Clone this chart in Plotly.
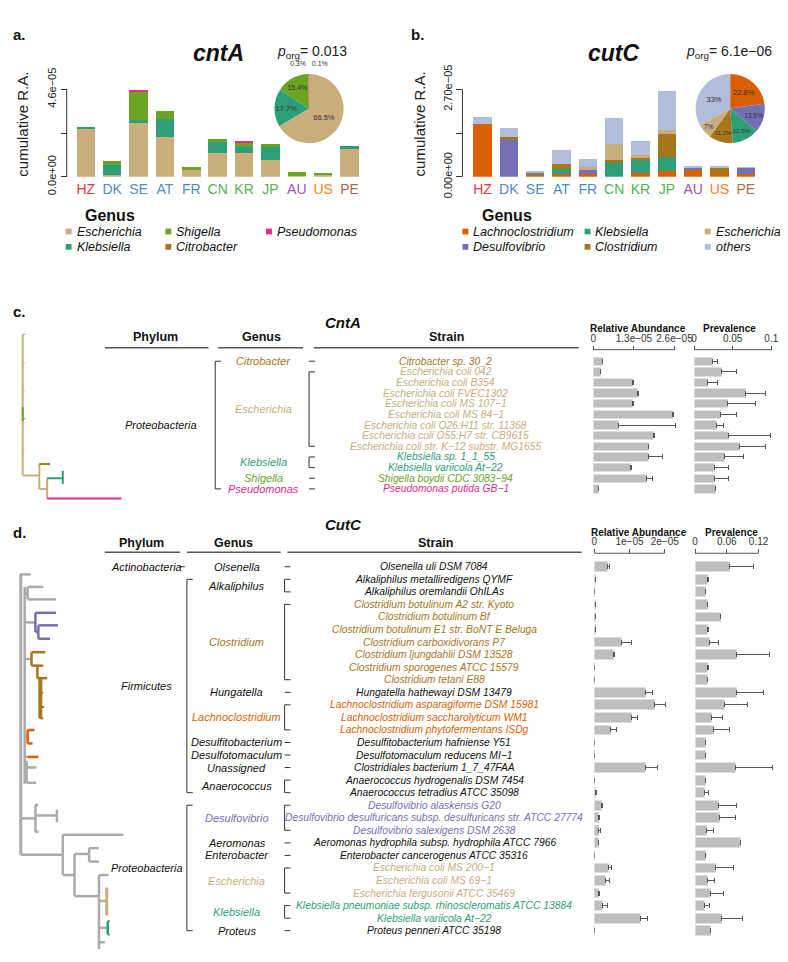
import plotly.graph_objects as go

W, H = 788, 962
def X(px): return px / W
def Y(py): return 1 - py / H

FONT = "Liberation Sans, Arial, Helvetica, sans-serif"

# ---------------- data: panels a / b ----------------
countries = ["HZ", "DK", "SE", "AT", "FR", "CN", "KR", "JP", "AU", "US", "PE"]
country_colors = ["#E3393C", "#4F8BC9", "#4F8BC9", "#4F8BC9", "#4F8BC9", "#55B255",
                  "#55B255", "#55B255", "#A34FC1", "#FF7F1E", "#B06A4B"]

cnta_genera = ["Escherichia", "Klebsiella", "Shigella", "Citrobacter", "Pseudomonas"]
cnta_escherichia = [2.56e-5, 0.08e-5, 2.85e-5, 2.11e-5, 0.40e-5, 1.26e-5, 1.23e-5, 0.86e-5, 0.02e-5, 0.12e-5, 1.50e-5]
cnta_klebsiella  = [0.08e-5, 0.54e-5, 0.13e-5, 0.91e-5, 0.00e-5, 0.61e-5, 0.32e-5, 0.72e-5, 0.00e-5, 0.02e-5, 0.10e-5]
cnta_shigella    = [0.00e-5, 0.20e-5, 1.54e-5, 0.42e-5, 0.09e-5, 0.10e-5, 0.24e-5, 0.15e-5, 0.25e-5, 0.08e-5, 0.00e-5]
cnta_citrobacter = [0, 0, 0, 0, 0, 0, 0.05e-5, 0, 0, 0, 0]
cnta_pseudomonas = [0, 0, 0.05e-5, 0, 0, 0, 0.03e-5, 0, 0, 0, 0]
cnta_pie = [66.5, 17.7, 15.4, 0.3, 0.1]
cnta_porg = "0.013"

cutc_genera = ["Lachnoclostridium", "Desulfovibrio", "Klebsiella", "Clostridium", "Escherichia", "others"]
cutc_lachno   = [1.63e-5, 0, 0.02e-5, 0.10e-5, 0.10e-5, 0, 0.13e-5, 0.17e-5, 0.23e-5, 0.09e-5, 0.10e-5]
cutc_desulfo  = [0, 1.14e-5, 0.07e-5, 0, 0.12e-5, 0, 0, 0, 0.05e-5, 0, 0.18e-5]
cutc_klebs    = [0, 0, 0, 0.15e-5, 0, 0.45e-5, 0.42e-5, 0.45e-5, 0, 0, 0]
cutc_clostr   = [0, 0.08e-5, 0.06e-5, 0.13e-5, 0, 0.06e-5, 0.03e-5, 0.69e-5, 0, 0.20e-5, 0]
cutc_escher   = [0, 0, 0, 0, 0.08e-5, 0.50e-5, 0.10e-5, 0.14e-5, 0, 0, 0]
cutc_others   = [0.23e-5, 0.30e-5, 0.04e-5, 0.44e-5, 0.26e-5, 0.82e-5, 0.42e-5, 1.21e-5, 0.03e-5, 0.05e-5, 0.02e-5]
cutc_pie = [22.8, 13.5, 12.5, 11.2, 7, 33]
cutc_porg = "6.1e\u221206"

genus_colors = {
    "Escherichia": "#C9AD7B", "Klebsiella": "#2E9E78", "Shigella": "#69A523",
    "Citrobacter": "#A6761D", "Pseudomonas": "#E7298A", "Lachnoclostridium": "#D95F02",
    "Desulfovibrio": "#7570B3", "Clostridium": "#A6761D", "others": "#B0BDDB",
}

# ---------------- data: panel c (CntA) ----------------
c_strains = ["Citrobacter sp. 30_2", "Escherichia coli 042", "Escherichia coli B354",
             "Escherichia coli FVEC1302", "Escherichia coli MS 107\u22121", "Escherichia coli MS 84\u22121",
             "Escherichia coli O26:H11 str. 11368", "Escherichia coli O55:H7 str. CB9615",
             "Escherichia coli str. K\u221212 substr. MG1655", "Klebsiella sp. 1_1_55",
             "Klebsiella variicola At\u221222", "Shigella boydii CDC 3083\u221294", "Pseudomonas putida GB\u22121"]
c_genus = ["Citrobacter"] + ["Escherichia"] * 8 + ["Klebsiella"] * 2 + ["Shigella", "Pseudomonas"]
c_phylum = ["Proteobacteria"] * 13
c_ra    = [0.28e-5, 0.22e-5, 1.26e-5, 1.40e-5, 1.26e-5, 2.54e-5, 0.80e-5, 1.94e-5, 1.76e-5, 1.76e-5, 1.20e-5, 1.70e-5, 0.16e-5]
c_ra_hi = [0.29e-5, 0.23e-5, 1.27e-5, 1.46e-5, 1.27e-5, 2.56e-5, 2.62e-5, 1.95e-5, 1.77e-5, 2.20e-5, 1.21e-5, 1.90e-5, 0.17e-5]
c_prev    = [0.024, 0.035, 0.018, 0.067, 0.043, 0.034, 0.029, 0.045, 0.059, 0.040, 0.026, 0.026, 0.028]
c_prev_hi = [0.031, 0.055, 0.030, 0.093, 0.080, 0.055, 0.038, 0.099, 0.093, 0.064, 0.044, 0.044, 0.028]
c_ra_ticks = [0, 1.3e-5, 2.6e-5]
c_ra_ticktext = ["0", "1.3e\u221205", "2.6e\u221205"]
c_prev_ticks = [0, 0.05, 0.1]
c_prev_ticktext = ["0", "0.05", "0.1"]

# ---------------- data: panel d (CutC) ----------------
d_strains = ["Olsenella uli DSM 7084", "Alkaliphilus metalliredigens QYMF", "Alkaliphilus oremlandii OhILAs",
             "Clostridium botulinum A2 str. Kyoto", "Clostridium botulinum Bf",
             "Clostridium botulinum E1 str. BoNT E Beluga", "Clostridium carboxidivorans P7",
             "Clostridium ljungdahlii DSM 13528", "Clostridium sporogenes ATCC 15579", "Clostridium tetani E88",
             "Hungatella hathewayi DSM 13479", "Lachnoclostridium asparagiforme DSM 15981",
             "Lachnoclostridium saccharolyticum WM1", "Lachnoclostridium phytofermentans ISDg",
             "Desulfitobacterium hafniense Y51", "Desulfotomaculum reducens MI\u22121",
             "Clostridiales bacterium 1_7_47FAA", "Anaerococcus hydrogenalis DSM 7454",
             "Anaerococcus tetradius ATCC 35098", "Desulfovibrio alaskensis G20",
             "Desulfovibrio desulfuricans subsp. desulfuricans str. ATCC 27774",
             "Desulfovibrio salexigens DSM 2638", "Aeromonas hydrophila subsp. hydrophila ATCC 7966",
             "Enterobacter cancerogenus ATCC 35316", "Escherichia coli MS 200\u22121", "Escherichia coli MS 69\u22121",
             "Escherichia fergusonii ATCC 35469", "Klebsiella pneumoniae subsp. rhinoscleromatis ATCC 13884",
             "Klebsiella variicola At\u221222", "Proteus penneri ATCC 35198"]
d_genus = (["Olsenella"] + ["Alkaliphilus"] * 2 + ["Clostridium"] * 7 + ["Hungatella"] +
           ["Lachnoclostridium"] * 3 + ["Desulfitobacterium", "Desulfotomaculum", "Unassigned"] +
           ["Anaerococcus"] * 2 + ["Desulfovibrio"] * 3 + ["Aeromonas", "Enterobacter"] +
           ["Escherichia"] * 3 + ["Klebsiella"] * 2 + ["Proteus"])
d_phylum = ["Actinobacteria"] + ["Firmicutes"] * 18 + ["Proteobacteria"] * 11
d_ra    = [0.37e-5, 0.02e-5, 0.01e-5, 0.02e-5, 0.02e-5, 0.03e-5, 0.76e-5, 0.54e-5, 0.01e-5, 0.01e-5,
           1.45e-5, 1.72e-5, 1.06e-5, 0.45e-5, 0.01e-5, 0.005e-5, 1.45e-5, 0.01e-5, 0.04e-5, 0.19e-5,
           0.12e-5, 0.12e-5, 0.11e-5, 0.01e-5, 0.40e-5, 0.31e-5, 0.12e-5, 0.23e-5, 1.30e-5, 0.01e-5]
d_ra_hi = [0.42e-5, 0.02e-5, 0.01e-5, 0.02e-5, 0.02e-5, 0.03e-5, 1.05e-5, 0.58e-5, 0.01e-5, 0.01e-5,
           1.65e-5, 2.03e-5, 1.22e-5, 0.63e-5, 0.01e-5, 0.005e-5, 1.80e-5, 0.01e-5, 0.06e-5, 0.24e-5,
           0.15e-5, 0.17e-5, 0.11e-5, 0.01e-5, 0.49e-5, 0.42e-5, 0.15e-5, 0.37e-5, 1.52e-5, 0.01e-5]
d_prev    = [0.0655, 0.023, 0.020, 0.0245, 0.049, 0.023, 0.028, 0.079, 0.023, 0.0245,
             0.078, 0.056, 0.032, 0.0355, 0.020, 0.020, 0.076, 0.020, 0.018, 0.0447,
             0.047, 0.022, 0.086, 0.020, 0.0386, 0.024, 0.029, 0.017, 0.0496, 0.029]
d_prev_hi = [0.111, 0.025, 0.020, 0.0245, 0.049, 0.026, 0.045, 0.141, 0.025, 0.0245,
             0.130, 0.100, 0.052, 0.065, 0.020, 0.020, 0.146, 0.020, 0.025, 0.078,
             0.0765, 0.034, 0.086, 0.020, 0.073, 0.037, 0.054, 0.028, 0.089, 0.029]
d_ra_ticks = [0, 1e-5, 2e-5]
d_ra_ticktext = ["0", "1e\u221205", "2e\u221205"]
d_prev_ticks = [0, 0.06, 0.12]
d_prev_ticktext = ["0", "0.06", "0.12"]

# ---------------- data: dendrograms (branch-length units, vertical layout units) ----------------
TAN, GREY = genus_colors["Escherichia"], "#ABABAB"
tree_c = [  # (colour, x0, y0, x1, y1, width)
    (TAN, 12, 7, 12, 154, 2), (TAN, 12, 7, 15, 7, 1), (TAN, 12, 37, 14, 37, 1), (TAN, 12, 67, 14, 67, 1),
    (TAN, 12, 127, 14, 127, 1), (TAN, 12, 154, 29, 154, 2), (TAN, 29, 142, 29, 168, 2),
    (TAN, 29, 168, 37, 168, 2), (TAN, 37, 157, 37, 178, 2),
    ("#69A523", 12, 83, 12, 97, 2), ("#69A523", 12, 95, 15, 95, 1),
    ("#A6761D", 29, 142, 40, 142, 2),
    ("#2E9E78", 37, 157, 53, 157, 2), ("#2E9E78", 53, 149, 53, 163, 2),
    ("#E7298A", 37, 178, 113, 178, 2),
]
tree_d = [
    (GREY, 9, 12, 20, 12, 2.5), (GREY, 10, 12, 10, 304, 3), (GREY, 14, 25, 14, 230, 2.5),
    (GREY, 14, 32, 17, 32, 2.5), (GREY, 17, 25, 17, 38, 2.5), (GREY, 17, 25, 33, 25, 2.5), (GREY, 17, 38, 46, 38, 2.5),
    (GREY, 14, 62, 25, 62, 2.5), (GREY, 14, 100, 21, 100, 2.5), (GREY, 14, 181, 17, 181, 2.5),
    (GREY, 14, 202, 17, 202, 2.5), (GREY, 16, 206, 16, 229, 2.5), (GREY, 16, 213, 26, 213, 2.5),
    (GREY, 16, 229, 26, 229, 2.5),
    (GREY, 10, 266, 25, 266, 2.5), (GREY, 25, 252, 25, 280, 2.5), (GREY, 25, 252, 28, 252, 2.5),
    (GREY, 25, 280, 28, 280, 2.5), (GREY, 25, 263, 47, 263, 2.5), (GREY, 47, 257, 47, 270, 2.5),
    (GREY, 10, 304, 53, 304, 2.5), (GREY, 53, 283, 53, 325, 2.5), (GREY, 53, 283, 115, 283, 2.5),
    (GREY, 53, 325, 65, 325, 2.5), (GREY, 65, 303, 65, 347, 2.5), (GREY, 65, 303, 80, 303, 2.5),
    (GREY, 80, 297, 80, 311, 2.5), (GREY, 80, 297, 90, 297, 2.5), (GREY, 80, 311, 90, 311, 2.5),
    (GREY, 65, 347, 90, 347, 2.5), (GREY, 90, 325, 90, 402, 2.5), (GREY, 90, 325, 100, 325, 2.5),
    (GREY, 90, 380, 99, 380, 2.5), (GREY, 90, 395, 96, 395, 2.5),
    ("#7570B3", 25, 52, 25, 72, 2.5), ("#7570B3", 25, 52, 46, 52, 2.5), ("#7570B3", 25, 72, 28, 72, 2.5),
    ("#7570B3", 28, 65, 28, 79, 2.5), ("#7570B3", 28, 65, 48, 65, 2.5), ("#7570B3", 28, 79, 40, 79, 2.5),
    ("#A6761D", 21, 93, 21, 107, 2.5), ("#A6761D", 21, 93, 35, 93, 2.5), ("#A6761D", 21, 107, 33, 107, 2.5),
    ("#A6761D", 27, 107, 27, 120, 2.5), ("#A6761D", 27, 120, 37, 120, 2.5), ("#A6761D", 30, 120, 30, 162, 4),
    ("#A6761D", 30, 135, 33, 135, 2), ("#A6761D", 30, 150, 34, 150, 2), ("#A6761D", 30, 162, 33, 162, 2),
    ("#D95F02", 17, 174, 17, 188, 2.5), ("#D95F02", 17, 174, 24, 174, 2.5), ("#D95F02", 17, 188, 22, 188, 2.5),
    ("#D95F02", 17, 202, 28, 202, 2.5),
    (TAN, 98, 338, 98, 367, 3), (TAN, 90, 352, 98, 352, 2.5),
    ("#2E9E78", 99, 373, 99, 387, 2.5), ("#2E9E78", 99, 373, 101, 373, 2), ("#2E9E78", 99, 387, 101, 387, 2),
]

# ---------------- figure ----------------
fig = go.Figure()
ann = []
shapes = []

def text(x, y, s, size=11, color="#111", xanchor="center", yanchor="middle", xref="paper", yref="paper",
         angle=0, bold=False, italic=False):
    if italic:
        s = "<i>" + s + "</i>"
    if bold:
        s = "<b>" + s + "</b>"
    ann.append(dict(x=x, y=y, xref=xref, yref=yref, text=s, showarrow=False, xanchor=xanchor,
                    yanchor=yanchor, textangle=angle, font=dict(family=FONT, size=size, color=color)))

def line(x0, y0, x1, y1, xref="paper", yref="paper", color="#333", width=1):
    shapes.append(dict(type="line", x0=x0, y0=y0, x1=x1, y1=y1, xref=xref, yref=yref,
                       line=dict(color=color, width=width)))

# panel a bars
for g, vals in zip(cnta_genera, [cnta_escherichia, cnta_klebsiella, cnta_shigella, cnta_citrobacter, cnta_pseudomonas]):
    fig.add_trace(go.Bar(x=countries, y=vals, marker_color=genus_colors[g], marker_line_width=0,
                         width=0.7, xaxis="x", yaxis="y", showlegend=False, hoverinfo="skip"))
# panel b bars
for g, vals in zip(cutc_genera, [cutc_lachno, cutc_desulfo, cutc_klebs, cutc_clostr, cutc_escher, cutc_others]):
    fig.add_trace(go.Bar(x=countries, y=vals, marker_color=genus_colors[g], marker_line_width=0,
                         width=0.7, xaxis="x2", yaxis="y2", showlegend=False, hoverinfo="skip"))

# pies
def pie_texts(vals):
    return [(f"{v:g}%" if v >= 1 else "") for v in vals]

fig.add_trace(go.Pie(values=cnta_pie, labels=cnta_genera, sort=False, direction="clockwise",
                     marker=dict(colors=[genus_colors[g] for g in cnta_genera], line=dict(width=0)),
                     text=pie_texts(cnta_pie), textinfo="text", textposition="inside",
                     insidetextorientation="horizontal",
                     textfont=dict(family=FONT, size=7.5, color="#333"), showlegend=False, hoverinfo="skip",
                     domain=dict(x=[X(269), X(341)], y=[Y(123), Y(51)])))
fig.add_trace(go.Pie(values=cutc_pie, labels=cutc_genera, sort=False, direction="clockwise",
                     marker=dict(colors=[genus_colors[g] for g in cutc_genera], line=dict(width=0)),
                     text=pie_texts(cutc_pie), textinfo="text", textposition="inside",
                     insidetextorientation="horizontal",
                     textfont=dict(family=FONT, size=7.5, color="#333"), showlegend=False, hoverinfo="skip",
                     domain=dict(x=[X(700), X(772)], y=[Y(123), Y(51)])))
small = "   ".join(f"{v:g}%" for v in cnta_pie if v < 1)
text(X(305), Y(40), small, size=7, color="#333")

# panel headings a/b
text(X(0), Y(10), "a.", size=15, bold=True, xanchor="left")
text(X(407), Y(10), "b.", size=15, bold=True, xanchor="left")
text(X(212), Y(29), "cntA", size=23, bold=True, italic=True)
text(X(617), Y(29), "cutC", size=23, bold=True, italic=True)
text(X(308), Y(28), "<i>p</i><sub>org</sub>= " + cnta_porg, size=14, color="#222")
text(X(735), Y(28), "<i>p</i><sub>org</sub>= " + cutc_porg, size=14, color="#222")
text(X(12), Y(103), "cumulative R.A.", size=15, color="#222", angle=-90)
text(X(418), Y(103), "cumulative R.A.", size=15, color="#222", angle=-90)

# y axis lines (R style: only between first & last tick)
line(X(57), 0, X(57), 4.6e-5, yref="y", color="#333")
line(X(462), 0, X(462), 2.70e-5, yref="y2", color="#333")

colored_ticks = [f"<span style='color:{c}'>{k}</span>" for k, c in zip(countries, country_colors)]

# manual genus legends
def legend(x_title, x_cols, genera):
    text(X(x_title), Y(198), "Genus", size=16, bold=True, xanchor="left")
    for k, g in enumerate(genera):
        col, row = k // 2, k % 2
        yc = 215 + row * 16
        xs = x_cols[col]
        shapes.append(dict(type="rect", xref="paper", yref="paper", x0=X(xs), x1=X(xs + 6),
                           y0=Y(yc + 3), y1=Y(yc - 3), fillcolor=genus_colors[g], line=dict(width=0)))
        text(X(xs + 9), Y(yc), g, size=12.5, italic=True, xanchor="left", color="#111")

legend(74, [56, 158, 261], cnta_genera)
legend(480, [462, 587, 710], cutc_genera)

# ---------------- panels c / d : tables ----------------
def groups(labels):
    out, start = [], 0
    for i in range(1, len(labels) + 1):
        if i == len(labels) or labels[i] != labels[start]:
            out.append((labels[start], start, i - 1))
            start = i
    return out

def bracket(bx, i0, i1, yref, tick=6, dash0=0):
    if i0 == i1:
        line(X(bx + dash0), i0, X(bx + dash0 + 6), i0, yref=yref, color="#333")
    else:
        line(X(bx), i0, X(bx), i1, yref=yref, color="#333")
        line(X(bx), i0, X(bx + tick), i0, yref=yref, color="#333")
        line(X(bx), i1, X(bx + tick), i1, yref=yref, color="#333")

def table(strains, genus, phylum, yref, x_phy, bx_phy, x_gen, bx_gen, x_str, fs_str, fs_gen, phy_dash0):
    for i, (s, g) in enumerate(zip(strains, genus)):
        text(X(x_str), i, s, size=fs_str, italic=True, color=genus_colors.get(g, "#111"), yref=yref)
    for g, i0, i1 in groups(genus):
        text(X(x_gen), (i0 + i1) / 2, g, size=fs_gen, italic=True, color=genus_colors.get(g, "#111"), yref=yref)
        bracket(bx_gen, i0, i1, yref)
    for p, i0, i1 in groups(phylum):
        text(X(x_phy), (i0 + i1) / 2, p, size=fs_gen, italic=True, color="#111", yref=yref)
        bracket(bx_phy, i0, i1, yref, dash0=phy_dash0)

table(c_strains, c_genus, c_phylum, "y3", 153, 209, 258, 305, 445, 10.3, 11, 0)
table(d_strains, d_genus, d_phylum, "y6", 139, 180, 231, 280, 433, 10.3, 11, -8)

# headers
text(X(0), Y(298), "c.", size=15, bold=True, xanchor="left")
text(X(0), Y(528), "d.", size=15, bold=True, xanchor="left")
text(X(340), Y(310), "CntA", size=15, bold=True, italic=True)
text(X(340), Y(520), "CutC", size=15, bold=True, italic=True)
for (lbl, xc) in [("Phylum", 148), ("Genus", 256), ("Strain", 446)]:
    text(X(xc), Y(325), lbl, size=12.5, bold=True)
for (lbl, xc) in [("Phylum", 134), ("Genus", 228), ("Strain", 434)]:
    text(X(xc), Y(539), lbl, size=12.5, bold=True)
for (a, b) in [(96, 202), (212, 299), (310, 581)]:
    line(X(a), Y(336), X(b), Y(336), color="#555", width=1.5)
for (a, b) in [(96, 173), (180, 276), (283, 584)]:
    line(X(a), Y(549), X(b), Y(549), color="#555", width=1.5)
text(X(642), Y(316), "Relative Abundance", size=10, bold=True)
text(X(735), Y(316), "Prevalence", size=10, bold=True)
text(X(643), Y(528), "Relative Abundance", size=10, bold=True)
text(X(737), Y(528), "Prevalence", size=10, bold=True)

# horizontal bar panels
def hbars(vals, hi, xa, ya):
    n = len(vals)
    fig.add_trace(go.Bar(y=list(range(n)), x=vals, orientation="h", xaxis=xa, yaxis=ya, width=0.78,
                         marker=dict(color="#BEBEBE", line=dict(color="#DCDCDC", width=1)),
                         error_x=dict(type="data", symmetric=False, array=[h - v for v, h in zip(vals, hi)],
                                      arrayminus=[0] * n, color="#555", thickness=1, width=2.5),
                         showlegend=False, hoverinfo="skip"))

hbars(c_ra, c_ra_hi, "x3", "y3")
hbars(c_prev, c_prev_hi, "x4", "y4")
hbars(d_ra, d_ra_hi, "x6", "y6")
hbars(d_prev, d_prev_hi, "x7", "y7")

# axis lines for the top axes (first to last tick)
line(c_ra_ticks[0], Y(338), c_ra_ticks[-1], Y(338), xref="x3", color="#555")
line(c_prev_ticks[0], Y(338), c_prev_ticks[-1], Y(338), xref="x4", color="#555")
line(d_ra_ticks[0], Y(550), d_ra_ticks[-1], Y(550), xref="x6", color="#555")
line(d_prev_ticks[0], Y(550), d_prev_ticks[-1], Y(550), xref="x7", color="#555")

# trees
def tree_traces(segs, xa, ya):
    keys = []
    for s in segs:
        if (s[0], s[5]) not in keys:
            keys.append((s[0], s[5]))
    for col, wd in keys:
        xs, ys = [], []
        for c, x0, y0, x1, y1, w in segs:
            if c == col and w == wd:
                xs += [x0, x1, None]
                ys += [y0, y1, None]
        fig.add_trace(go.Scatter(x=xs, y=ys, mode="lines", line=dict(color=col, width=wd),
                                 xaxis=xa, yaxis=ya, showlegend=False, hoverinfo="skip"))

tree_traces(tree_c, "x5", "y5")
tree_traces(tree_d, "x8", "y8")

# ---------------- layout ----------------
hidden = dict(visible=False, showgrid=False, zeroline=False)
tickf = dict(family=FONT, size=10, color="#333")

fig.update_layout(
    width=W, height=H, autosize=False, margin=dict(l=0, r=0, t=0, b=0),
    paper_bgcolor="white", plot_bgcolor="white", barmode="stack", showlegend=False,
    font=dict(family=FONT),
    xaxis=dict(domain=[X(63), X(360)], range=[-0.5, 10.5], anchor="y", showline=False, ticks="",
               showgrid=False, zeroline=False, tickvals=countries, ticktext=colored_ticks,
               tickfont=dict(family=FONT, size=14), ticklabelstandoff=2),
    yaxis=dict(domain=[Y(158), Y(59.1)], range=[0, 5.0e-5], anchor="free", position=X(57),
               tickvals=[0, 2.3e-5, 4.6e-5], ticktext=["0.0e+00", "", "4.6e\u221205"], ticks="outside",
               ticklen=6, tickcolor="#333", tickangle=-90, showgrid=False, zeroline=False, showline=False,
               tickfont=dict(family=FONT, size=11, color="#222")),
    xaxis2=dict(domain=[X(469), X(765.5)], range=[-0.5, 10.5], anchor="y2", showline=False, ticks="",
                showgrid=False, zeroline=False, tickvals=countries, ticktext=colored_ticks,
                tickfont=dict(family=FONT, size=14), ticklabelstandoff=2),
    yaxis2=dict(domain=[Y(158), Y(59.1)], range=[0, 2.934e-5], anchor="free", position=X(462),
                tickvals=[0, 1.35e-5, 2.70e-5], ticktext=["0.00e+00", "", "2.70e\u221205"], ticks="outside",
                ticklen=6, tickcolor="#333", tickangle=-90, showgrid=False, zeroline=False, showline=False,
                tickfont=dict(family=FONT, size=11, color="#222")),
    xaxis3=dict(domain=[X(596), X(682.2)], range=[0, 2.7e-5], anchor="free", position=Y(338), side="top",
                tickvals=c_ra_ticks, ticktext=c_ra_ticktext, ticks="outside", ticklen=4, tickcolor="#555",
                showline=False, showgrid=False, zeroline=False, tickfont=tickf),
    yaxis3=dict(domain=[Y(488.5), Y(344.5)], range=[12.5, -0.5], anchor="x3", **hidden),
    xaxis4=dict(domain=[X(699), X(782)], range=[0, 0.105], anchor="free", position=Y(338), side="top",
                tickvals=c_prev_ticks, ticktext=c_prev_ticktext, ticks="outside", ticklen=4, tickcolor="#555",
                showline=False, showgrid=False, zeroline=False, tickfont=tickf),
    yaxis4=dict(domain=[Y(488.5), Y(344.5)], range=[12.5, -0.5], anchor="x4", **hidden),
    xaxis5=dict(domain=[0, X(130)], range=[0, 130], anchor="y5", **hidden),
    yaxis5=dict(domain=[Y(500), Y(315)], range=[185, 0], anchor="x5", **hidden),
    xaxis6=dict(domain=[X(597), X(672.6)], range=[0, 2.1e-5], anchor="free", position=Y(550), side="top",
                tickvals=d_ra_ticks, ticktext=d_ra_ticktext, ticks="outside", ticklen=4, tickcolor="#555",
                showline=False, showgrid=False, zeroline=False, tickfont=tickf),
    yaxis6=dict(domain=[Y(949.5), Y(557.5)], range=[29.5, -0.5], anchor="x6", **hidden),
    xaxis7=dict(domain=[X(700), X(781.3)], range=[0, 0.15], anchor="free", position=Y(550), side="top",
                tickvals=d_prev_ticks, ticktext=d_prev_ticktext, ticks="outside", ticklen=4, tickcolor="#555",
                showline=False, showgrid=False, zeroline=False, tickfont=tickf),
    yaxis7=dict(domain=[Y(949.5), Y(557.5)], range=[29.5, -0.5], anchor="x7", **hidden),
    xaxis8=dict(domain=[0, X(130)], range=[0, 130], anchor="y8", **hidden),
    yaxis8=dict(domain=[0, Y(560)], range=[402, 0], anchor="x8", **hidden),
    annotations=ann, shapes=shapes,
)

fig.write_html("out.html")
